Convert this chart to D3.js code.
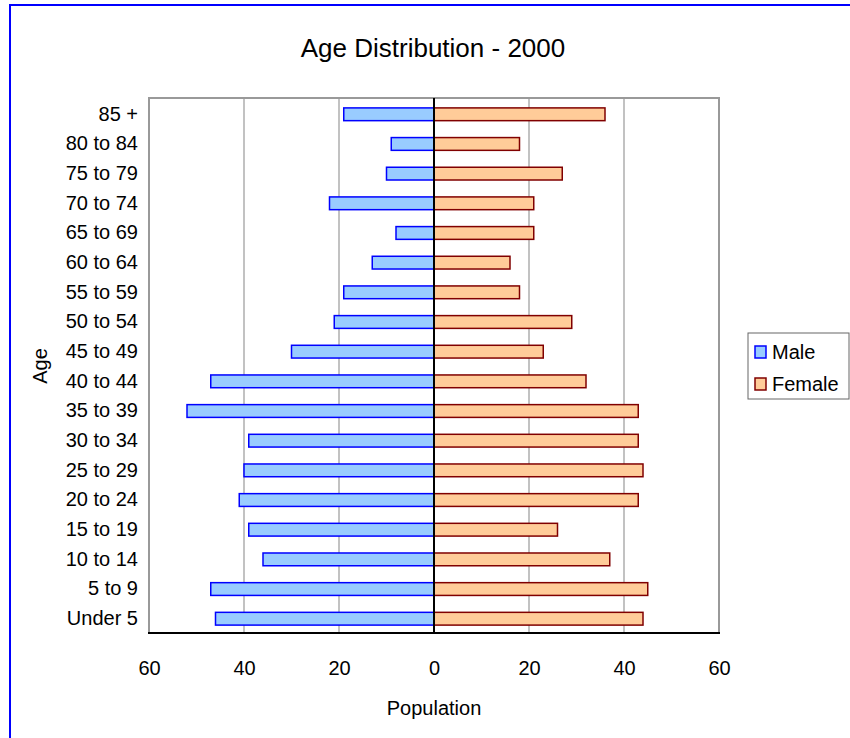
<!DOCTYPE html>
<html>
<head>
<meta charset="utf-8">
<script src="https://cdn.jsdelivr.net/npm/d3@7/dist/d3.min.js"></script>
<style>
  body { margin: 0; background: #fff; }
  svg { display: block; }
  text { font-family: "Liberation Sans", Arial, sans-serif; fill: #000; }
</style>
</head>
<body>
<svg id="chart" width="850" height="738"></svg>
<script>
// ---- data ----
const ageGroups = ["85 +", "80 to 84", "75 to 79", "70 to 74", "65 to 69", "60 to 64",
  "55 to 59", "50 to 54", "45 to 49", "40 to 44", "35 to 39", "30 to 34",
  "25 to 29", "20 to 24", "15 to 19", "10 to 14", "5 to 9", "Under 5"];
const maleValues   = [19, 9, 10, 22, 8, 13, 19, 21, 30, 47, 52, 39, 40, 41, 39, 36, 47, 46];
const femaleValues = [36, 18, 27, 21, 21, 16, 18, 29, 23, 32, 43, 43, 44, 43, 26, 37, 45, 44];
const xTicks = [-60, -40, -20, 0, 20, 40, 60];
const seriesNames = ["Male", "Female"];
const titleText = "Age Distribution - 2000";

// ---- layout ----
const svg = d3.select("#chart");
const plot = { left: 149, right: 719, top: 98, bottom: 633 };
const FONT = "'Liberation Sans', Arial, sans-serif";

const x = d3.scaleLinear().domain([-60, 60]).range([plot.left, plot.right]);
const y = d3.scaleBand().domain(ageGroups).range([plot.top, plot.bottom]).paddingInner(0.57).paddingOuter(0.3);

// outer blue frame
svg.append("rect").attr("x", 10).attr("y", 5).attr("width", 900).attr("height", 800)
  .attr("fill", "none").attr("stroke", "#0000ff").attr("stroke-width", 2);

// title
svg.append("text").attr("x", 433).attr("y", 57).attr("text-anchor", "middle")
  .style("font-size", "26px").text(titleText);

// plot background/frame
svg.append("rect").attr("x", plot.left).attr("y", plot.top)
  .attr("width", plot.right - plot.left).attr("height", plot.bottom - plot.top)
  .attr("fill", "#fff").attr("stroke", "#999").attr("stroke-width", 2);

// gridlines
svg.append("g").selectAll("line").data(xTicks.filter(d => d !== 0 && Math.abs(d) !== 60)).join("line")
  .attr("x1", d => x(d)).attr("x2", d => x(d))
  .attr("y1", plot.top).attr("y2", plot.bottom)
  .attr("stroke", "#999").attr("stroke-width", 1.2);

// bars
const rows = ageGroups.map((g, i) => ({ g, m: maleValues[i], f: femaleValues[i] }));
svg.append("g").selectAll("rect").data(rows).join("rect")
  .attr("x", d => x(-d.m)).attr("y", d => y(d.g) + 1)
  .attr("width", d => x(0) - x(-d.m)).attr("height", y.bandwidth())
  .attr("fill", "#99ccff").attr("stroke", "#0000ff").attr("stroke-width", 1.5);
svg.append("g").selectAll("rect").data(rows).join("rect")
  .attr("x", x(0)).attr("y", d => y(d.g) + 1)
  .attr("width", d => x(d.f) - x(0)).attr("height", y.bandwidth())
  .attr("fill", "#ffcc99").attr("stroke", "#800000").attr("stroke-width", 1.5);

// zero line
svg.append("line").attr("x1", x(0)).attr("x2", x(0)).attr("y1", plot.top).attr("y2", plot.bottom)
  .attr("stroke", "#000").attr("stroke-width", 2);
// bottom axis line
svg.append("line").attr("x1", plot.left - 1).attr("x2", plot.right + 1).attr("y1", plot.bottom).attr("y2", plot.bottom)
  .attr("stroke", "#000").attr("stroke-width", 2);

// x axis labels
const xAxis = d3.axisBottom(x).tickValues(xTicks).tickFormat(d => Math.abs(d)).tickSize(0).tickPadding(0);
const gx = svg.append("g").attr("transform", `translate(0,${plot.bottom + 42})`).call(xAxis);
gx.select(".domain").remove();
gx.selectAll("text").attr("dy", 0).style("font-size", "20px").style("font-family", FONT);

// y axis labels
const yAxis = d3.axisLeft(y).tickSize(0).tickPadding(0);
const gy = svg.append("g").attr("transform", `translate(${plot.left - 11},1)`).call(yAxis);
gy.select(".domain").remove();
gy.selectAll("text").style("font-size", "20px").style("font-family", FONT);

// axis titles
svg.append("text").attr("x", 434).attr("y", 715).attr("text-anchor", "middle")
  .style("font-size", "20px").text("Population");
svg.append("text").attr("transform", "translate(47,366) rotate(-90)").attr("text-anchor", "middle")
  .style("font-size", "20px").text("Age");

// legend
const lg = svg.append("g");
lg.append("rect").attr("x", 748).attr("y", 333).attr("width", 101).attr("height", 66)
  .attr("fill", "#fff").attr("stroke", "#666").attr("stroke-width", 1);
const legendColors = [["#99ccff", "#0000ff"], ["#ffcc99", "#800000"]];
seriesNames.forEach((s, i) => {
  const yy = 346 + i * 32;
  lg.append("rect").attr("x", 755).attr("y", yy).attr("width", 11).attr("height", 12)
    .attr("fill", legendColors[i][0]).attr("stroke", legendColors[i][1]).attr("stroke-width", 1.5);
  lg.append("text").attr("x", 772).attr("y", yy + 13).style("font-size", "20px").text(s);
});
</script>
</body>
</html>
